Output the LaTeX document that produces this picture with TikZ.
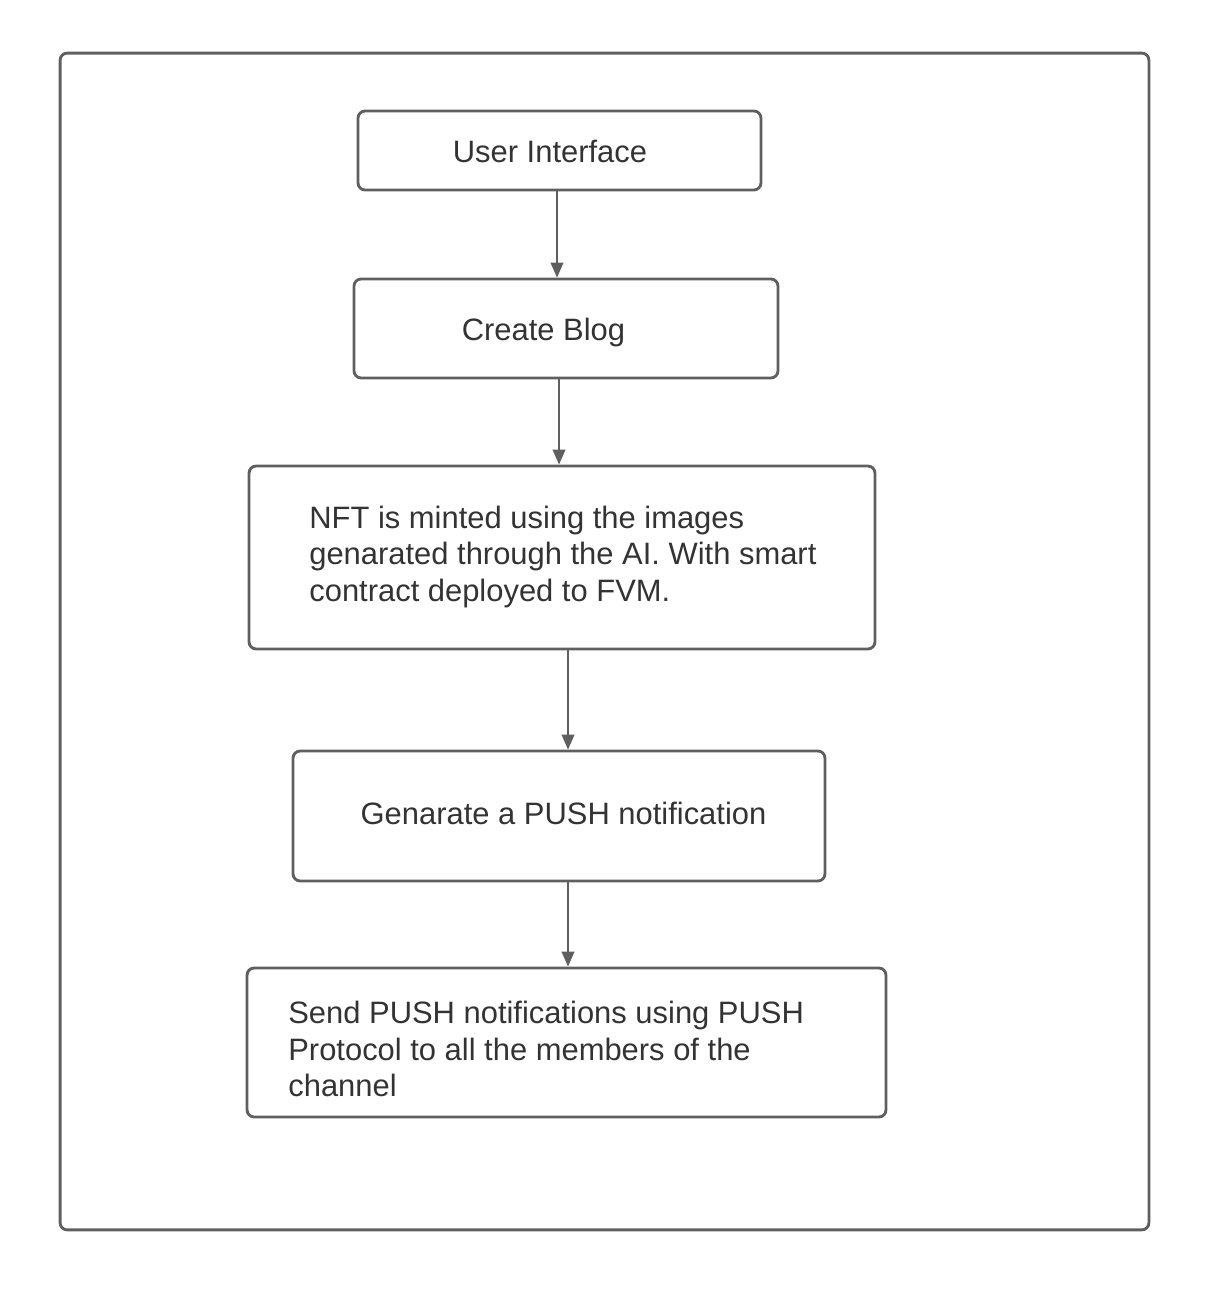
\documentclass[tikz,border=0pt]{standalone}
\usepackage{fontspec}
\setmainfont{Liberation Sans}
\usetikzlibrary{positioning}
\usetikzlibrary{arrows.meta}
\definecolor{linegray}{HTML}{5F5F5F}
\definecolor{textgray}{HTML}{333333}

\begin{document}
\begin{tikzpicture}[
	x=0.02cm, y=-0.02cm,
	box/.style={draw=linegray, line width=1.6pt, rounded corners=4pt, inner sep=0pt},
	txt/.style={text=textgray, font=\fontsize{17.6}{21}\selectfont, inner sep=0pt, align=left},
	edge/.style={draw=linegray, line width=1.3pt, -{Triangle[length=0.3cm, width=0.25cm]}}
	]
	\useasboundingbox (0,0) rectangle (1223,1297);
	% Frame
	\node[box, minimum width=21.78cm, minimum height=23.54cm] (frame) at (604.5,641.5) {};
	
	% Boxes
	\node[box, minimum width=8.06cm, minimum height=1.58cm] (b1) at (559.5,150.5) {};
	\node[box, minimum width=8.48cm, minimum height=1.98cm] (b2) at (566,328.5) {};
	\node[box, minimum width=12.52cm, minimum height=3.66cm] (b3) at (562,557.5) {};
	\node[box, minimum width=10.64cm, minimum height=2.6cm] (b4) at (559,816) {};
	\node[box, minimum width=12.78cm, minimum height=2.98cm] (b5) at (566.5,1042.5) {};
	
	% Texts
	\node[txt] (t1) at (550,151) {User Interface};
	\node[txt] (t2) at (543.5,333) {Create Blog};
	\node[txt, anchor=west] (t3) at (309,557) {NFT is minted using the images\\genarated through the AI. With smart\\contract deployed to FVM.};
	\node[txt] (t4) at (563.5,813) {Genarate a PUSH notification};
	\node[txt, anchor=west] (t5) at (288,1049) {Send PUSH notifications using PUSH\\Protocol to all the members of the\\channel};
	
	% Edges
	\draw[edge] ([xshift=-0.05cm]b1.south) -- ([xshift=-0.05cm]b1.south |- b2.north);
	\draw[edge] ([xshift=-0.14cm]b2.south) -- ([xshift=-0.14cm]b2.south |- b3.north);
	\draw[edge] ([xshift=0.12cm]b3.south) -- ([xshift=0.12cm]b3.south |- b4.north);
	\draw[edge] ([xshift=0.18cm]b4.south) -- ([xshift=0.18cm]b4.south |- b5.north);
\end{tikzpicture}
\end{document}
